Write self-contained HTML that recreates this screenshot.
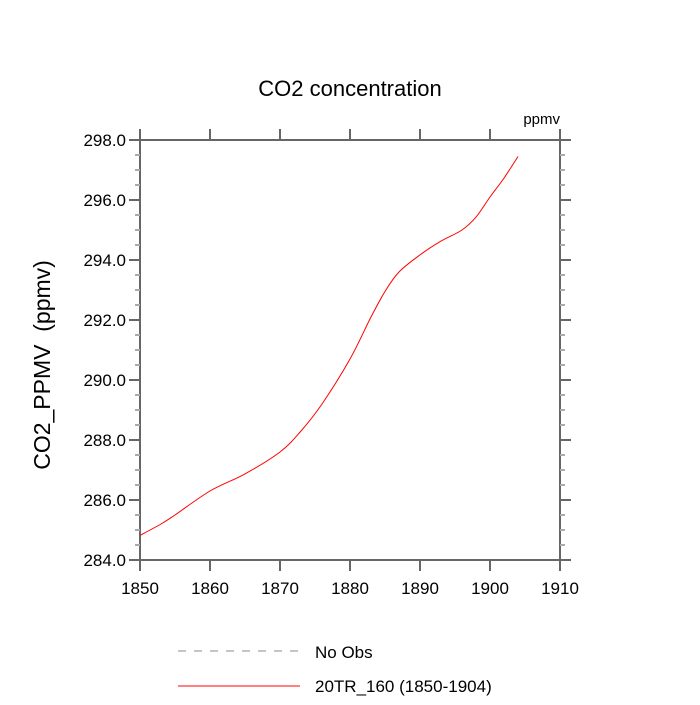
<!DOCTYPE html>
<html><head><meta charset="utf-8"><style>
body{margin:0;background:#fff;}
svg text{font-family:"Liberation Sans",sans-serif;fill:#000;}
</style></head><body>
<svg id="chart" width="700" height="700">
<text x="350" y="96" text-anchor="middle" font-size="22">CO2 concentration</text>
<text x="560" y="124" text-anchor="end" font-size="15">ppmv</text>
<text transform="translate(50,365) rotate(-90)" text-anchor="middle" font-size="23" style="white-space:pre" xml:space="preserve">CO2_PPMV  (ppmv)</text>
<g id="axes"></g>
<path id="series" fill="none" stroke="#ff0000" stroke-width="1"></path>
<g>
<line x1="178" y1="651" x2="300" y2="651" stroke="#888" stroke-dasharray="8,8"/>
<text x="315" y="658" font-size="17">No Obs</text>
<line x1="178" y1="686" x2="300" y2="686" stroke="#ff0000"/>
<text x="315" y="692" font-size="17">20TR_160 (1850-1904)</text>
</g>
</svg>
<script>
const years=[1850,1853,1855,1860,1865,1870,1873,1876,1880,1883,1885,1887,1890,1893,1896,1898,1900,1902,1904];
const co2=[284.82,285.2,285.5,286.3,286.87,287.6,288.3,289.2,290.7,292.1,292.95,293.6,294.17,294.63,295.0,295.43,296.1,296.73,297.45];
const xTicks=[1850,1860,1870,1880,1890,1900,1910];
const yTicks=[284,286,288,290,292,294,296,298];
const X0=140,X1=560,Y0=560,Y1=140;
const xs=v=>X0+(v-1850)/60*(X1-X0);
const ys=v=>Y0-(v-284)/14*(Y0-Y1);
const ns="http://www.w3.org/2000/svg";
const ax=document.getElementById('axes');
function mk(t,a){const e=document.createElementNS(ns,t);for(const k in a)e.setAttribute(k,a[k]);ax.appendChild(e);return e;}
const rect=mk('rect',{x:X0,y:Y1,width:X1-X0,height:Y0-Y1,fill:'none',stroke:'#666',"stroke-width":2});


xTicks.forEach(v=>{const x=xs(v);
 mk('line',{x1:x,y1:Y0,x2:x,y2:Y0+11,stroke:'#666',"stroke-width":2});
 mk('line',{x1:x,y1:Y1,x2:x,y2:Y1-11,stroke:'#666',"stroke-width":2});
 const t=mk('text',{x:x,y:Y0+34,"text-anchor":"middle","font-size":17});t.textContent=v;
 
 
});
for(let v=284;v<=298.001;v+=0.5){const y=ys(v);const major=Math.abs(v-Math.round(v/2)*2)<1e-6;
 const L=major?11:5;const c=major?'#666':'#aaa';
 mk('line',{x1:X0,y1:y,x2:X0-L,y2:y,stroke:c,"stroke-width":2});
 mk('line',{x1:X1,y1:y,x2:X1+L,y2:y,stroke:c,"stroke-width":2});
}
yTicks.forEach(v=>{const t=mk('text',{x:X0-14,y:ys(v)+6,"text-anchor":"end","font-size":17});t.textContent=v.toFixed(1);
 
 
});
const pts=years.map((y,i)=>[xs(y),ys(co2[i])]);
let d='M'+pts[0][0]+','+pts[0][1];
for(let i=0;i<pts.length-1;i++){const p0=pts[Math.max(0,i-1)],p1=pts[i],p2=pts[i+1],p3=pts[Math.min(pts.length-1,i+2)];
 const c1=[p1[0]+(p2[0]-p0[0])/6,p1[1]+(p2[1]-p0[1])/6],c2=[p2[0]-(p3[0]-p1[0])/6,p2[1]-(p3[1]-p1[1])/6];
 d+=` C${c1[0]},${c1[1]} ${c2[0]},${c2[1]} ${p2[0]},${p2[1]}`;}
document.getElementById('series').setAttribute('d',d);
</script>
</body></html>
